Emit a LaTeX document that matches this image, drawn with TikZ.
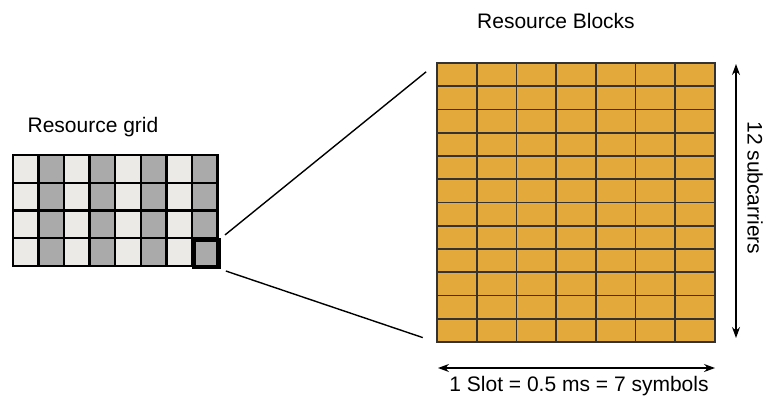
\documentclass[tikz,border=0pt]{standalone}
\usepackage{fontspec}
\setmainfont{Liberation Sans}
\usetikzlibrary{arrows.meta, positioning}

\definecolor{lightcell}{HTML}{EBEAE6}
\definecolor{darkcell}{HTML}{AAAAAA}
\definecolor{rbfill}{HTML}{E3A93B}

\begin{document}
\begin{tikzpicture}
                [x=1pt, y=-1pt,
                every node/.style={font=\fontsize{21}{25}\selectfont},
                gridcell/.style={draw=black, line width=2.4pt},
                rbcell/.style={draw=black!80, line width=1.7pt, fill=rbfill},
                zoomline/.style={line width=1.4pt, shorten <=5pt},
                dimarrow/.style={{Stealth[length=11pt,width=8pt]}-{Stealth[length=11pt,width=8pt]}, line width=1.1pt}]
                \useasboundingbox (0,0) rectangle (767,398);

                % resource grid: light and dark columns
                \foreach \i/\c in {0/lightcell,1/darkcell,2/lightcell,3/darkcell,4/lightcell,5/darkcell,6/lightcell,7/darkcell}
                \foreach \j in {0,...,3}
                \draw[gridcell, fill=\c] (12.7+25.6*\i, 155+27.7*\j) rectangle ++(25.6, 27.7);
                \node (gridlabel) at (93,127) {Resource grid};
                \node[draw, line width=3.6pt, inner sep=0pt, anchor=north west,
                minimum width=25.6pt, minimum height=27.7pt] (rbsel) at (191.9,238.1) {};

                % one resource block: 7 symbols x 12 subcarriers
                \foreach \i in {0,...,6}
                \foreach \j in {0,...,11}
                \draw[rbcell] (437+39.7*\i, 63+23.25*\j) rectangle ++(39.7, 23.25);
                \node[inner sep=0pt, anchor=north west, minimum width=278pt, minimum height=279pt] (rb) at (437,63) {};
                \node (rblabel) at (556,21) {Resource Blocks};

                \draw[zoomline, shorten >=14pt] (rbsel.north east) -- (rb.north west);
                \draw[zoomline, shorten >=15pt] (rbsel.south east) -- (rb.south west);

                % dimensions
                \coordinate (sctop) at (736,64);
                \coordinate (scbot) at (736,338);
                \draw[dimarrow] (sctop) -- (scbot);
                \node[rotate=-90] (sclabel) at (755,188) {12 subcarriers};
                \coordinate (slotl) at (438,368);
                \coordinate (slotr) at (715,368);
                \draw[dimarrow] (slotl) -- (slotr);
                \node (slotlabel) at (579,386) {1 Slot = 0.5 ms = 7 symbols};
            \end{tikzpicture}
\end{document}
